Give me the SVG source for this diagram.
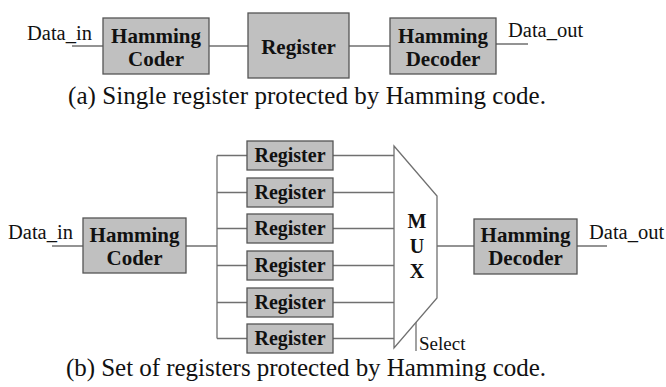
<svg xmlns="http://www.w3.org/2000/svg" width="666" height="387" viewBox="0 0 666 387">
<style>
.box{fill:#c0c0c0;stroke:#555;stroke-width:1.3}
.w{stroke:#707070;stroke-width:1.3;fill:none}
.bt{font-family:"Liberation Serif",serif;font-weight:bold;font-size:20px;fill:#111;text-anchor:middle}
.bh{font-size:21px}
.t{font-family:"Liberation Serif",serif;font-size:20.5px;fill:#111}
.cap{font-family:"Liberation Serif",serif;font-size:25px;fill:#111}
</style>
<rect width="666" height="387" fill="#fff"/>
<g id="connectors">
<path class="w" d="M72 46H103M209 46H248M349 46H390M496 44H528"/>
<path class="w" d="M52 246H83M186 246H217M217 155.5V338.5M217 155.5H247M217 192.5H247M217 228.5H247M217 265.5H247M217 302.5H247M217 338.5H247"/>
<path class="w" d="M333 155.5H394M333 192.5H394M333 228.5H394M333 265.5H394M333 302.5H394M333 338.5H394M437 246H474M577 246H607M416 322V351"/>
</g>
<g id="a-coder"><rect class="box" x="103" y="18" width="106" height="56"/><text class="bt bh" x="156" y="43">Hamming</text><text class="bt bh" x="156" y="66">Coder</text></g>
<g id="a-register"><rect class="box" x="248" y="13" width="101" height="65"/><text class="bt bh" x="298.5" y="54">Register</text></g>
<g id="a-decoder"><rect class="box" x="390" y="18" width="106" height="56"/><text class="bt bh" x="443" y="43">Hamming</text><text class="bt bh" x="443" y="66">Decoder</text></g>
<g id="a-labels"><text class="t" x="27" y="40">Data_in</text><text class="t" x="508" y="37">Data_out</text>
<text class="cap" x="68" y="104" textLength="478" lengthAdjust="spacing">(a) Single register protected by Hamming code.</text></g>
<g id="b-coder"><rect class="box" x="83" y="218" width="103" height="55"/><text class="bt bh" x="134.5" y="242">Hamming</text><text class="bt bh" x="134.5" y="265">Coder</text></g>
<g id="b-reg1"><rect class="box" x="247" y="141" width="86" height="29"/><text class="bt" x="290" y="162">Register</text></g>
<g id="b-reg2"><rect class="box" x="247" y="178" width="86" height="29"/><text class="bt" x="290" y="199">Register</text></g>
<g id="b-reg3"><rect class="box" x="247" y="214" width="86" height="29"/><text class="bt" x="290" y="235">Register</text></g>
<g id="b-reg4"><rect class="box" x="247" y="251" width="86" height="29"/><text class="bt" x="290" y="272">Register</text></g>
<g id="b-reg5"><rect class="box" x="247" y="288" width="86" height="29"/><text class="bt" x="290" y="309">Register</text></g>
<g id="b-reg6"><rect class="box" x="247" y="324" width="86" height="29"/><text class="bt" x="290" y="345">Register</text></g>
<g id="b-mux"><path d="M394 146L437 196V298L394 348Z" fill="#fff" stroke="#707070" stroke-width="1.3"/>
<text class="bt" x="417" y="228">M</text><text class="bt" x="417" y="253">U</text><text class="bt" x="417" y="278">X</text></g>
<g id="b-decoder"><rect class="box" x="474" y="219" width="103" height="55"/><text class="bt bh" x="525.5" y="242">Hamming</text><text class="bt bh" x="525.5" y="265">Decoder</text></g>
<g id="b-labels"><text class="t" x="8" y="239">Data_in</text><text class="t" x="589" y="239">Data_out</text>
<text class="t" x="419" y="350" style="font-size:19px">Select</text>
<text class="cap" x="66" y="376" textLength="480" lengthAdjust="spacing">(b) Set of registers protected by Hamming code.</text></g>
</svg>
